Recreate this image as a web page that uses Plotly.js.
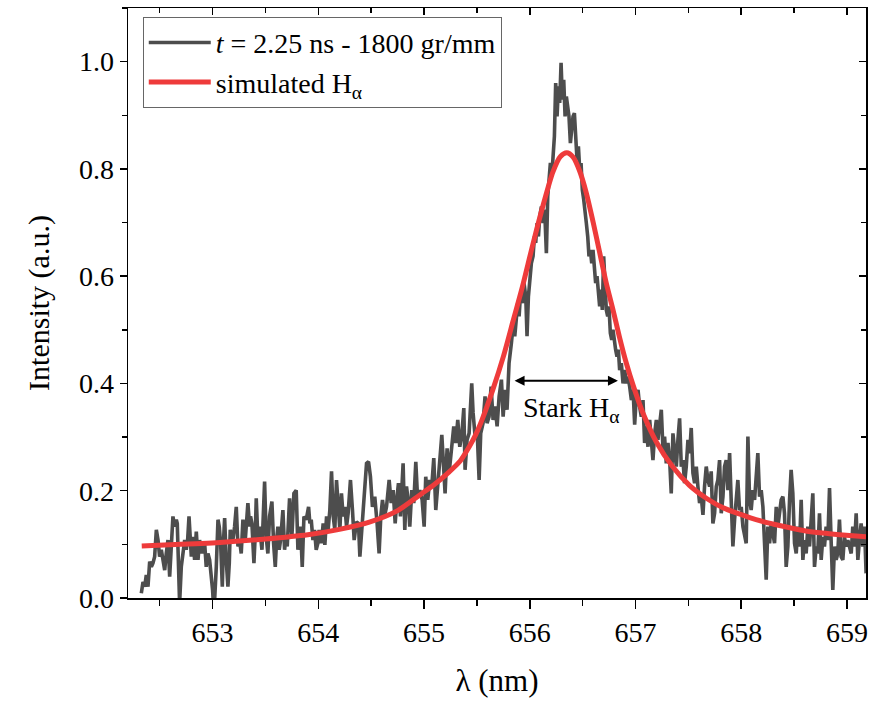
<!DOCTYPE html>
<html>
<head>
<meta charset="utf-8">
<script src="https://cdn.plot.ly/plotly-3.0.1.min.js"></script>
<style>html,body{margin:0;padding:0;background:#fff}</style>
</head>
<body>
<div id="chart" style="width:894px;height:701px"></div>
<script>
const measuredWavelength = [
652.326,652.342,652.358,652.373,652.389,652.405,652.421,652.436,652.452,652.468,652.484,652.499,652.515,652.531,652.547,652.562,652.578,652.594,652.610,652.625,652.641,652.657,652.666,652.679,652.688,652.704,652.720,652.736,652.751,652.764,652.777,652.789,652.799,652.814,652.830,652.846,652.862,652.877,652.899,652.912,652.925,652.940,652.956,652.972,652.988,653.000,653.013,653.025,653.035,653.051,653.063,653.076,653.092,653.104,653.114,653.129,653.145,653.158,653.167,653.180,653.192,653.208,653.224,653.240,653.255,653.271,653.287,653.309,653.322,653.334,653.350,653.359,653.372,653.391,653.404,653.413,653.429,653.444,653.467,653.479,653.492,653.507,653.523,653.539,653.561,653.577,653.593,653.605,653.618,653.630,653.643,653.665,653.681,653.693,653.706,653.728,653.750,653.769,653.791,653.807,653.819,653.832,653.848,653.864,653.886,653.908,653.920,653.933,653.949,653.964,653.980,653.996,
654.008,654.030,654.046,654.062,654.078,654.093,654.109,654.125,654.141,654.156,654.172,654.188,654.204,654.219,654.235,654.251,654.267,654.282,654.304,654.323,654.339,654.361,654.380,654.393,654.411,654.430,654.456,654.475,654.493,654.512,654.534,654.556,654.575,654.591,654.607,654.626,654.645,654.670,654.689,654.708,654.727,654.745,654.758,654.777,654.802,654.818,654.834,654.853,654.865,654.884,654.903,654.922,654.938,654.960,654.982,655.001,655.016,655.035,655.054,655.073,655.092,655.111,655.127,655.149,655.168,655.187,655.199,655.218,655.237,655.256,655.281,655.300,655.319,655.338,655.357,655.376,655.388,655.407,655.426,655.451,655.464,655.483,655.502,655.521,655.536,655.558,655.577,655.596,655.615,655.634,655.653,655.672,655.691,655.710,655.732,655.748,655.766,655.785,655.804,
655.826,655.842,655.858,655.874,655.886,655.899,655.911,655.930,655.946,655.962,655.974,655.987,656.000,656.015,656.031,656.044,656.056,656.069,656.082,656.094,656.110,656.126,656.141,656.157,656.170,656.182,656.195,656.208,656.220,656.233,656.245,656.258,656.271,656.283,656.296,656.308,656.321,656.334,656.346,656.359,656.371,656.384,656.397,656.409,656.422,656.434,656.447,656.460,656.472,656.485,656.497,656.510,656.523,656.535,656.548,656.560,656.573,656.586,656.598,656.611,656.623,656.636,656.649,656.661,656.674,656.686,656.699,656.712,656.724,656.737,656.749,656.762,656.775,656.787,656.800,656.812,656.825,656.838,656.850,656.866,656.882,656.898,656.913,656.929,656.945,656.961,656.977,656.992,657.008,657.024,
657.039,657.055,657.071,657.086,657.102,657.118,657.134,657.149,657.165,657.181,657.197,657.212,657.228,657.244,657.260,657.275,657.291,657.307,657.323,657.338,657.354,657.370,657.386,657.401,657.417,657.433,657.449,657.464,657.480,657.496,657.512,657.527,657.543,657.559,657.575,657.590,657.606,657.622,657.638,657.653,657.669,657.685,657.701,657.716,657.732,657.748,657.764,657.779,657.795,657.811,657.827,657.842,657.858,657.874,657.890,657.905,657.921,657.937,657.953,657.968,657.984,658.000,658.016,658.031,658.047,658.063,658.079,658.094,658.110,658.126,658.142,658.157,658.173,658.189,658.205,658.220,658.236,658.252,658.268,658.283,658.299,658.315,658.331,658.346,658.362,658.378,658.394,658.409,658.425,658.441,658.457,658.472,658.488,658.504,658.520,658.535,658.551,658.567,658.583,658.598,658.614,658.630,658.646,658.661,658.677,658.693,658.709,658.724,658.740,658.756,658.772,658.787,658.803,658.819,658.835,658.850,658.866,658.882,658.898,658.913,658.929,658.945,658.961,658.976,658.992,659.008,659.024,659.040,659.055,659.071,659.087,659.103,659.118,659.134,659.150,659.166,659.181
];
const measuredIntensity = [
0.009,0.030,0.021,0.043,0.021,0.068,0.058,0.065,0.077,0.127,0.108,0.077,0.090,0.071,0.052,0.083,0.108,0.040,0.090,0.152,0.133,0.146,0.139,0.058,-0.010,0.058,0.083,0.108,0.090,0.108,0.152,0.114,0.077,0.114,0.071,0.124,0.071,0.108,0.083,0.096,0.102,0.058,0.083,0.071,0.046,0.015,-0.029,0.009,0.058,0.146,0.133,0.102,0.021,0.108,0.149,0.071,0.021,0.065,0.127,0.114,0.108,0.133,0.170,0.096,0.108,0.083,0.146,0.108,0.139,0.177,0.133,0.152,0.139,0.065,0.121,0.186,0.108,0.133,0.090,0.146,0.217,0.114,0.083,0.152,0.180,0.102,0.058,0.108,0.133,0.090,0.108,0.164,0.090,0.114,0.096,0.186,0.114,0.195,0.201,0.090,0.121,0.133,0.058,0.152,0.146,0.170,0.139,0.146,0.108,0.127,0.090,0.102,
0.127,0.102,0.139,0.099,0.152,0.127,0.164,0.236,0.152,0.127,0.220,0.177,0.127,0.195,0.152,0.170,0.133,0.158,0.220,0.164,0.108,0.142,0.139,0.077,0.127,0.177,0.251,0.254,0.226,0.170,0.189,0.139,0.083,0.152,0.183,0.152,0.170,0.220,0.177,0.201,0.139,0.189,0.214,0.152,0.251,0.127,0.208,0.177,0.133,0.201,0.177,0.254,0.189,0.201,0.183,0.133,0.226,0.183,0.220,0.208,0.261,0.164,0.214,0.257,0.304,0.239,0.195,0.279,0.233,0.270,0.320,0.289,0.332,0.282,0.304,0.354,0.239,0.295,0.307,0.400,0.345,0.301,0.313,0.220,0.307,0.326,0.376,0.326,0.338,0.394,0.332,0.357,0.320,0.376,0.407,0.338,0.388,0.351,0.438,
0.475,0.506,0.488,0.525,0.550,0.525,0.562,0.550,0.587,0.562,0.488,0.562,0.600,0.624,0.637,0.674,0.662,0.699,0.674,0.711,0.730,0.699,0.724,0.643,0.749,0.774,0.811,0.786,0.836,0.861,0.960,0.898,0.954,0.923,0.998,0.929,0.966,0.898,0.935,0.917,0.898,0.848,0.873,0.898,0.904,0.848,0.817,0.842,0.799,0.811,0.761,0.743,0.711,0.699,0.674,0.637,0.649,0.624,0.649,0.612,0.587,0.600,0.562,0.544,0.575,0.537,0.637,0.587,0.537,0.525,0.544,0.494,0.481,0.500,0.475,0.463,0.450,0.463,0.425,0.438,0.400,0.425,0.400,0.413,0.394,0.369,0.388,0.323,0.376,0.388,
0.357,0.338,0.369,0.289,0.320,0.282,0.332,0.295,0.257,0.307,0.332,0.295,0.326,0.351,0.276,0.301,0.251,0.289,0.257,0.195,0.307,0.270,0.245,0.295,0.335,0.245,0.257,0.214,0.245,0.295,0.270,0.317,0.233,0.214,0.245,0.208,0.177,0.189,0.155,0.208,0.245,0.220,0.208,0.236,0.139,0.158,0.208,0.220,0.257,0.158,0.189,0.245,0.257,0.201,0.270,0.183,0.096,0.146,0.183,0.220,0.164,0.170,0.133,0.121,0.102,0.301,0.183,0.164,0.201,0.183,0.226,0.270,0.189,0.201,0.170,0.108,0.034,0.133,0.102,0.139,0.121,0.102,0.170,0.133,0.158,0.183,0.189,0.158,0.058,0.096,0.183,0.239,0.195,0.102,0.083,0.133,0.096,0.183,0.071,0.108,0.083,0.133,0.096,0.146,0.195,0.058,0.096,0.083,0.158,0.071,0.114,0.096,0.133,0.108,0.205,0.108,0.015,0.096,0.071,0.083,0.146,0.077,0.071,0.114,0.096,0.108,0.096,0.083,0.133,0.096,0.158,0.071,0.108,0.139,0.096,0.133,0.046
];
// simulated H-alpha profile
const simulatedWavelength = [652.33,652.70,653.10,653.50,653.90,654.20,654.49,654.75,654.96,655.10,655.22,655.34,655.43,655.49,655.55,655.65,655.75,655.84,655.93,656.03,656.13,656.22,656.29,656.35,656.41,656.47,656.535,656.60,656.66,656.72,656.79,656.85,656.91,656.98,657.07,657.20,657.35,657.51,657.67,657.83,657.98,658.14,658.30,658.46,658.61,658.77,658.93,659.18];
const simulatedIntensity = [0.097,0.100,0.104,0.110,0.118,0.128,0.142,0.163,0.192,0.212,0.232,0.255,0.283,0.305,0.333,0.388,0.450,0.515,0.580,0.660,0.735,0.795,0.823,0.830,0.822,0.797,0.755,0.700,0.645,0.590,0.535,0.485,0.440,0.395,0.345,0.290,0.245,0.210,0.186,0.168,0.157,0.146,0.138,0.131,0.125,0.121,0.118,0.114];

const seriesNames = ['<i>t</i> = 2.25 ns - 1800 gr/mm', 'simulated H<sub>α</sub>'];
const starkLabel = 'Stark H<sub>α</sub>';
const starkFrom = 655.842, starkTo = 656.834, starkLevel = 0.405;
const starkLabelX = 656.39, starkLabelY = 0.352;
const xRange = [652.2, 659.18];
const yRange = [0, 1.1];

const FONT = 'Liberation Serif, Times New Roman, Times, serif';

const traces = [
  {x: measuredWavelength, y: measuredIntensity, type: 'scatter', mode: 'lines',
   name: seriesNames[0], line: {color: '#4d4d4d', width: 3.6}},
  {x: simulatedWavelength, y: simulatedIntensity, type: 'scatter', mode: 'lines',
   name: seriesNames[1], line: {color: '#ee3b3b', width: 5, shape: 'spline', smoothing: 0.8}},
  {x: [], y: [], xaxis: 'x2', yaxis: 'y2', type: 'scatter', mode: 'lines', showlegend: false, hoverinfo: 'skip'}
];

const axisCommon = {
  showgrid: false, zeroline: false, showline: true, linecolor: '#000', linewidth: 1.5,
  tickcolor: '#000', tickwidth: 1.5, ticklen: 9
};

const layout = {
  width: 894, height: 701,
  margin: {l: 128, r: 28, t: 8, b: 103},
  paper_bgcolor: '#fff', plot_bgcolor: '#fff',
  font: {family: FONT, size: 28, color: '#000'},
  showlegend: true,
  legend: {x: 0.02, y: 0.985, xanchor: 'left', yanchor: 'top', bgcolor: 'rgba(255,255,255,0)',
           bordercolor: '#666', borderwidth: 1, font: {family: FONT, size: 28, color: '#000'},
           tracegroupgap: 0, itemwidth: 62},
  xaxis: Object.assign({}, axisCommon, {
    range: xRange, tickmode: 'linear', tick0: 653, dtick: 1, ticks: 'outside',
    tickfont: {family: FONT, size: 28},
    minor: {tick0: 652.5, dtick: 0.5, ticks: 'outside', ticklen: 6, tickwidth: 1.5, tickcolor: '#000', showgrid: false},
    title: {text: 'λ (nm)', font: {family: FONT, size: 31}, standoff: 22}
  }),
  yaxis: Object.assign({}, axisCommon, {
    range: yRange, tickmode: 'linear', tick0: 0, dtick: 0.2, tickformat: '.1f', ticks: 'outside', ticklen: 7,
    tickfont: {family: FONT, size: 28},
    minor: {tick0: 0, dtick: 0.1, ticks: 'outside', ticklen: 5, tickwidth: 1.5, tickcolor: '#000', showgrid: false},
    title: {text: 'Intensity (a.u.)', font: {family: FONT, size: 30}, standoff: 20}
  }),
  xaxis2: Object.assign({}, axisCommon, {
    overlaying: 'x', side: 'top', anchor: 'y2', range: xRange, tickmode: 'linear', tick0: 653, dtick: 1,
    ticks: 'inside', ticklen: 7, showticklabels: false,
    minor: {tick0: 652.5, dtick: 0.5, ticks: 'inside', ticklen: 5, tickwidth: 1.5, tickcolor: '#000', showgrid: false}
  }),
  yaxis2: Object.assign({}, axisCommon, {
    overlaying: 'y', side: 'right', anchor: 'x2', range: yRange, tickmode: 'linear', tick0: 0, dtick: 0.2,
    ticks: 'inside', ticklen: 7, showticklabels: false,
    minor: {tick0: 0, dtick: 0.1, ticks: 'inside', ticklen: 5, tickwidth: 1.5, tickcolor: '#000', showgrid: false}
  }),
  annotations: [
    {x: starkTo, y: starkLevel, ax: starkFrom, ay: starkLevel, xref: 'x', yref: 'y', axref: 'x', ayref: 'y',
     text: '', showarrow: true, arrowhead: 2, arrowside: 'end+start', arrowsize: 1, arrowwidth: 2, arrowcolor: '#000'},
    {x: starkLabelX, y: starkLabelY, xref: 'x', yref: 'y', text: starkLabel, showarrow: false,
     xanchor: 'center', yanchor: 'middle', font: {family: FONT, size: 28, color: '#000'}}
  ]
};

Plotly.newPlot('chart', traces, layout, {staticPlot: true, displayModeBar: false});
</script>
</body>
</html>
